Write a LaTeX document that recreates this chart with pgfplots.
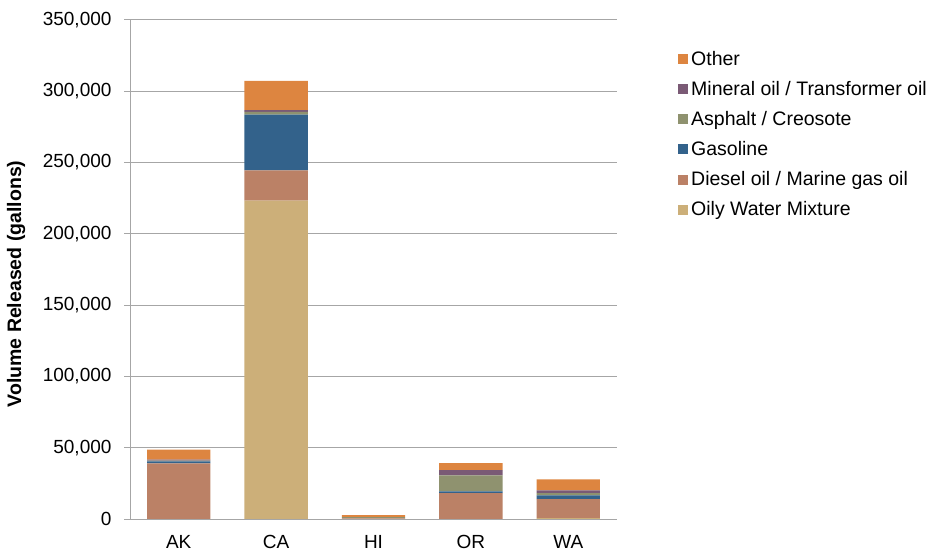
\documentclass[border=0pt]{standalone}
\usepackage{fontspec}
\setmainfont{Liberation Sans}
\usepackage{pgfplots}
\usepackage{pgfplotstable}
\pgfplotsset{compat=1.18}

\definecolor{cOily}{HTML}{CCAF79}
\definecolor{cDiesel}{HTML}{BB8166}
\definecolor{cGas}{HTML}{33628B}
\definecolor{cAsph}{HTML}{8F926F}
\definecolor{cMin}{HTML}{7A5A75}
\definecolor{cOther}{HTML}{DD8540}
\definecolor{gridgray}{HTML}{A6A6A6}

\newcommand{\cf}{\fontsize{19bp}{23bp}\selectfont}
\newcommand{\lf}{\fontsize{19.5bp}{23bp}\selectfont}

% volumes released (gallons) per state
\pgfplotstableread{
x oily diesel gas asph mineral other
0 0      39000 1500  500   700  7000
1 223300 21300 39000 1900  1200 20600
2 0      500   0     800   0    1500
3 0      18200 1200  11200 3700 4900
4 700    13300 2600  1600  1900 7700
}\spills

\begin{document}
\begin{tikzpicture}
\useasboundingbox (0,0) rectangle (929bp,551bp);
\begin{axis}[
    at={(130bp,32bp)}, anchor=south west,
    width=487bp, height=499bp, scale only axis,
    ybar stacked, bar width=0.65,
    xmin=-0.5, xmax=4.5,
    ymin=0, ymax=350000,
    xtick={0,...,4},
    xticklabels={AK,CA,HI,OR,WA},
    ytick={0,50000,...,350000},
    scaled y ticks=false,
    yticklabel style={xshift=-9bp, /pgf/number format/.cd, fixed, 1000 sep={,}, assume math mode=true},
    xticklabel style={yshift=-7bp},
    ticklabel style={font=\cf},
    axis x line*=bottom, axis y line*=left,
    axis line style={gridgray, line width=1bp, -},
    x tick style={draw=none},
    y tick style={gridgray, line width=1bp},
    tick align=outside, major tick length=6bp,
    ymajorgrids=true,
    grid style={gridgray, line width=1bp},
    ylabel={Volume Released (gallons)},
    ylabel style={font=\lf\bfseries, at={(axis description cs:-0.234,0.471)}, anchor=center},
    reverse legend,
    legend cell align=left,
    legend style={at={(1,1)}, anchor=north west, xshift=61bp, yshift=-31bp,
        draw=none, font=\lf, row sep=14.5bp, inner sep=0pt,
        nodes={inner xsep=3bp, inner ysep=0pt}},
    legend image code/.code={\fill[#1] (0bp,-5bp) rectangle (10bp,5bp);},
]
\addplot[fill=cOily, draw=none] table[x=x, y=oily] {\spills};
\addlegendentry{Oily Water Mixture}
\addplot[fill=cDiesel, draw=none] table[x=x, y=diesel] {\spills};
\addlegendentry{Diesel oil / Marine gas oil}
\addplot[fill=cGas, draw=none] table[x=x, y=gas] {\spills};
\addlegendentry{Gasoline}
\addplot[fill=cAsph, draw=none] table[x=x, y=asph] {\spills};
\addlegendentry{Asphalt / Creosote}
\addplot[fill=cMin, draw=none] table[x=x, y=mineral] {\spills};
\addlegendentry{Mineral oil / Transformer oil}
\addplot[fill=cOther, draw=none] table[x=x, y=other] {\spills};
\addlegendentry{Other}
\end{axis}
\end{tikzpicture}
\end{document}
